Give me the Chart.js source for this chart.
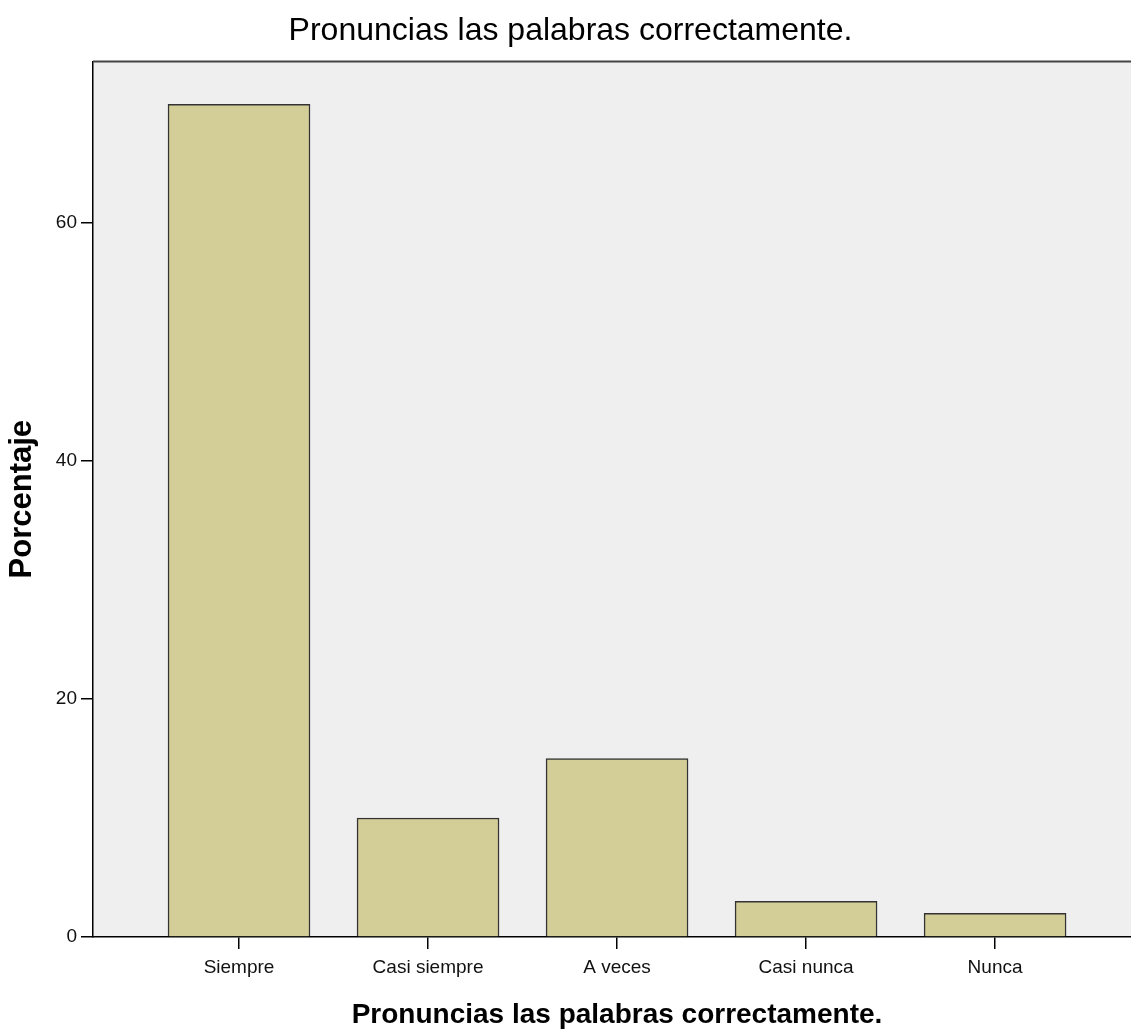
<!DOCTYPE html>
<html>
<head>
<meta charset="utf-8">
<script src="https://cdn.jsdelivr.net/npm/chart.js@4.4.1/dist/chart.umd.min.js"></script>
<style>
  html, body { margin: 0; padding: 0; background: #fff; overflow: hidden; }
  #wrap { width: 1141px; height: 1032px; }
</style>
</head>
<body>
<div id="wrap"><canvas id="chart"></canvas></div>
<script>
// categories and percentages
const categories = ['Siempre', 'Casi siempre', 'A veces', 'Casi nunca', 'Nunca'];
const percentages = [70, 10, 15, 3, 2];
const yTicks = [0, 20, 40, 60];

const FONT = '"Liberation Sans", Arial, sans-serif';

// grey plot background + white page
const plotBg = {
  id: 'plotBg',
  beforeDraw(chart) {
    const { ctx, chartArea: a } = chart;
    ctx.save();
    ctx.fillStyle = '#ffffff';
    ctx.fillRect(0, 0, chart.width, chart.height);
    ctx.fillStyle = '#efefef';
    ctx.fillRect(a.left, a.top, a.right - a.left, a.bottom - a.top);
    ctx.restore();
  },
  afterDraw(chart) {
    const { ctx, chartArea: a } = chart;
    ctx.save();
    ctx.strokeStyle = '#444';
    ctx.lineWidth = 2;
    ctx.beginPath();
    ctx.moveTo(a.left, a.top);
    ctx.lineTo(a.right, a.top);
    ctx.stroke();
    ctx.restore();
  }
};

const ctx = document.getElementById('chart').getContext('2d');
new Chart(ctx, {
  type: 'bar',
  data: {
    datasets: [{
      data: categories.map((c, i) => ({ x: i + 1, y: percentages[i] })),
      backgroundColor: '#d3ce97',
      borderColor: '#333',
      borderWidth: 1.5,
      barThickness: 142
    }]
  },
  plugins: [plotBg],
  options: {
    responsive: true,
    maintainAspectRatio: false,
    animation: false,
    layout: { padding: 0 },
    plugins: {
      legend: { display: false },
      tooltip: { enabled: false },
      title: {
        display: true,
        text: 'Pronuncias las palabras correctamente.',
        color: '#000',
        font: { family: FONT, size: 32, weight: 'normal' },
        padding: { top: 12, bottom: 11 }
      }
    },
    scales: {
      x: {
        type: 'linear',
        offset: false,
        min: 0.2275,
        max: 5.772,
        afterFit: s => { s.height = 95; },
        afterBuildTicks: s => { s.ticks = categories.map((c, i) => ({ value: i + 1 })); },
        border: { color: '#000', width: 1.5 },
        grid: { offset: false, drawOnChartArea: false, drawTicks: true, tickLength: 12, color: '#000', lineWidth: 1.5 },
        ticks: {
          autoSkip: false,
          maxRotation: 0,
          padding: 7,
          color: '#111',
          font: { family: FONT, size: 19 },
          callback: v => categories[v - 1] || ''
        },
        title: {
          display: true,
          text: 'Pronuncias las palabras correctamente.',
          color: '#000',
          font: { family: FONT, size: 28, weight: 'bold' },
          padding: { top: 0, bottom: 0 }
        }
      },
      y: {
        min: 0,
        max: 73.6,
        afterFit: s => { s.width = 93; },
        afterBuildTicks: s => { s.ticks = yTicks.map(v => ({ value: v })); },
        border: { color: '#000', width: 1.5 },
        grid: { drawOnChartArea: false, drawTicks: true, tickLength: 12, color: '#000', lineWidth: 1.5 },
        ticks: {
          padding: 4,
          color: '#111',
          font: { family: FONT, size: 19 }
        },
        title: {
          display: true,
          text: 'Porcentaje',
          color: '#000',
          font: { family: FONT, size: 31, weight: 'bold' },
          padding: { top: 4, bottom: 0 }
        }
      }
    }
  }
});
</script>
</body>
</html>
